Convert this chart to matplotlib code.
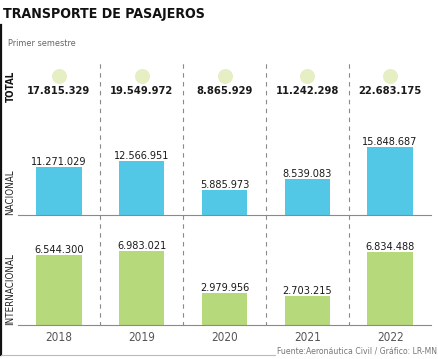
import matplotlib
matplotlib.use("Agg")
import matplotlib.pyplot as plt
from matplotlib.lines import Line2D

# datos (primer semestre, pasajeros)
years = ["2018", "2019", "2020", "2021", "2022"]
total = [17815329, 19549972, 8865929, 11242298, 22683175]
nacional = [11271029, 12566951, 5885973, 8539083, 15848687]
internacional = [6544300, 6983021, 2979956, 2703215, 6834488]

W, H = 439, 359
plt.rcParams['font.family'] = ["DejaVu Sans"]
plt.rcParams['font.stretch'] = "condensed"

fig = plt.figure(figsize=(W / 100, H / 100), dpi=100)
fig.patch.set_facecolor("white")


def rect(x0, y_top, x1, y_bot):
    # pixel box (from top-left) -> figure fraction
    return [x0 / W, 1 - y_bot / H, (x1 - x0) / W, (y_bot - y_top) / H]


def fx(x):
    return x / W


def fy(y):
    return 1 - y / H


xs = list(range(len(years)))
X0, X1 = 17.5, 431.5

# separadores discontinuos
bg = fig.add_axes(rect(X0, 60, X1, 326))
bg.set_xlim(-0.5, len(years) - 0.5)
bg.set_ylim(0, 1)
bg.axis("off")
for i in range(len(years) - 1):
    bg.axvline(i + 0.5, color="#8a8a8a", lw=0.8, ls=(0, (4, 4)))

# totales
ax_t = fig.add_axes(rect(X0, 60, X1, 110))
ax_t.set_xlim(-0.5, len(years) - 0.5)
ax_t.set_ylim(0, 1)
ax_t.axis("off")
ax_t.scatter(xs, [0.68] * len(xs), s=95, color="#e6eec4", zorder=2)
for i, v in enumerate(total):
    ax_t.text(i, 0.38, f"{v:,}".replace(",", "."), ha="center", va="center",
              fontsize=8, fontweight="bold", color="#1a1a1a")

# nacional
ax_n = fig.add_axes(rect(X0, 135, X1, 215))
ax_n.bar(xs, nacional, width=0.55, color="#52c8e6")
ax_n.set_xlim(-0.5, len(years) - 0.5)
ax_n.set_ylim(0, 80 / 4.27 * 1e6)
for i, v in enumerate(nacional):
    ax_n.text(i, v, f"{v:,}".replace(",", "."), ha="center", va="bottom",
              fontsize=7.8, color="#1a1a1a")

# internacional
ax_i = fig.add_axes(rect(X0, 235, X1, 325))
ax_i.bar(xs, internacional, width=0.55, color="#b6d97c")
ax_i.set_xlim(-0.5, len(years) - 0.5)
ax_i.set_ylim(0, 90 / 10.65 * 1e6)
for i, v in enumerate(internacional):
    ax_i.text(i, v, f"{v:,}".replace(",", "."), ha="center", va="bottom",
              fontsize=7.8, color="#1a1a1a")

for ax in (ax_n, ax_i):
    for s in ("top", "right", "left"):
        ax.spines[s].set_visible(False)
    ax.spines["bottom"].set_color("#8a8a8a")
    ax.spines["bottom"].set_linewidth(0.8)
    ax.set_yticks([])
    ax.patch.set_alpha(0)
ax_n.set_xticks([])
ax_i.set_xticks(xs)
ax_i.set_xticklabels(years, fontsize=8.5, color="#555555")
ax_i.tick_params(axis="x", length=0, pad=4)

# textos
fig.text(fx(3), fy(14), "TRANSPORTE DE PASAJEROS", fontsize=10.2, fontweight="bold",
         color="#111111", va="center", ha="left")
fig.text(fx(8), fy(43), "Primer semestre", fontsize=6.6, color="#666666",
         va="center", ha="left")
fig.text(fx(11), fy(86), "TOTAL", fontsize=7, fontweight="bold", rotation=90,
         va="center", ha="center", color="#111111")
fig.text(fx(10), fy(192), "NACIONAL", fontsize=7, rotation=90,
         va="center", ha="center", color="#222222")
fig.text(fx(10), fy(289), "INTERNACIONAL", fontsize=7, rotation=90,
         va="center", ha="center", color="#222222")
fig.text(fx(437), fy(351), "Fuente:Aeronáutica Civil / Gráfico: LR-MN", fontsize=6.2,
         color="#777777", va="center", ha="right")

# marco
fig.add_artist(Line2D([fx(1), fx(1)], [fy(25), fy(355)], color="#111111", lw=1.6))
fig.add_artist(Line2D([fx(1), fx(275)], [fy(355), fy(355)], color="#bbbbbb", lw=0.8))

fig.savefig("out.png", dpi=100, facecolor="white")
